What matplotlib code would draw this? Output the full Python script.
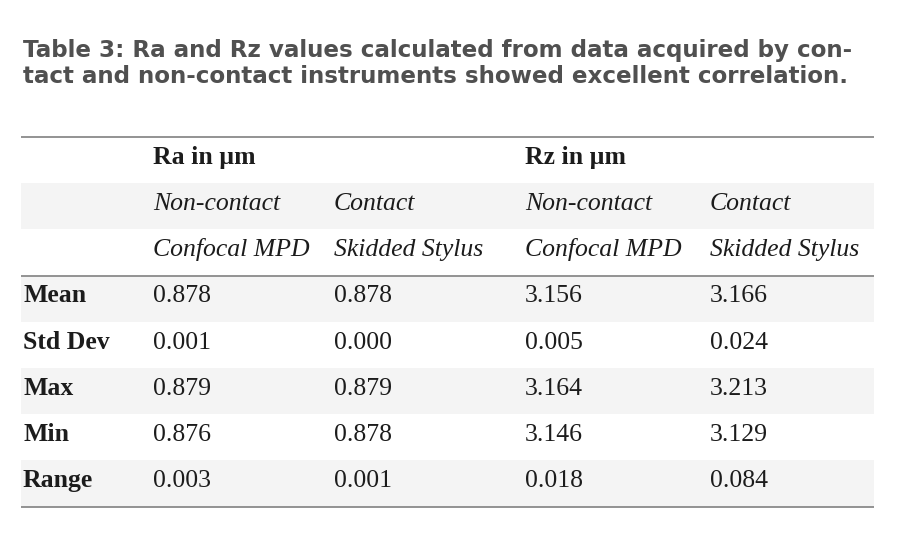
import matplotlib
matplotlib.use("Agg")
import matplotlib.pyplot as plt
from matplotlib.patches import Rectangle
from matplotlib.font_manager import FontProperties

# ---- data ----
title_lines = [
    "Table 3: Ra and Rz values calculated from data acquired by con-",
    "tact and non-contact instruments showed excellent correlation.",
]
group_headers = ["Ra in µm", "", "Rz in µm", ""]
method_headers = ["Non-contact", "Contact", "Non-contact", "Contact"]
instrument_headers = ["Confocal MPD", "Skidded Stylus", "Confocal MPD", "Skidded Stylus"]
row_labels = ["Mean", "Std Dev", "Max", "Min", "Range"]
ra_noncontact = [0.878, 0.001, 0.879, 0.876, 0.003]
ra_contact = [0.878, 0.000, 0.879, 0.878, 0.001]
rz_noncontact = [3.156, 0.005, 3.164, 3.146, 0.018]
rz_contact = [3.166, 0.024, 3.213, 3.129, 0.084]

W, H = 900, 550
fig = plt.figure(figsize=(W / 100, H / 100), dpi=100)
ax = fig.add_axes([0, 0, 1, 1])
ax.set_xlim(0, W)
ax.set_ylim(H, 0)
ax.axis("off")

title_color = "#505050"
text_color = "#1c1c1c"
band_color = "#f4f4f4"
line_color = "#8a8a8a"

# title: size fitted so the first line spans the same width as the reference
renderer = fig.canvas.get_renderer()
base_size = 14.0
tprop = FontProperties(family="DejaVu Sans", weight="bold", size=base_size)
w0, _, _ = renderer.get_text_width_height_descent(title_lines[0], tprop, ismath=False)
title_size = base_size * (857 - 23) / w0
for i, line in enumerate(title_lines):
    ax.text(23, 57.5 + 25.5 * i, line, fontsize=title_size, fontweight="bold",
            family="DejaVu Sans", color=title_color, va="baseline", ha="left")

# table geometry
x0, x1 = 21, 874
row_h = 46.2
top = 137
col_x = [23, 153, 334, 525, 710]
serif = "Liberation Serif"
fs = 18.5

header_rows = [group_headers, method_headers, instrument_headers]
data_cols = [ra_noncontact, ra_contact, rz_noncontact, rz_contact]
n_rows = len(header_rows) + len(row_labels)

# background bands
band_rows = [1, 3, 5, 7]
for r in band_rows:
    ax.add_patch(Rectangle((x0, top + r * row_h), x1 - x0, row_h,
                           facecolor=band_color, edgecolor="none", zorder=0))

# rules
for y in [top, top + len(header_rows) * row_h, top + n_rows * row_h]:
    ax.plot([x0, x1], [y, y], color=line_color, lw=1.3, solid_capstyle="butt", zorder=2)

base_off = 26.8
# headers
for r, hdr in enumerate(header_rows):
    y = top + r * row_h + base_off
    for c, t in enumerate(hdr):
        if not t:
            continue
        if r == 0:
            ax.text(col_x[c + 1], y, t, fontsize=fs, family=serif, fontweight="bold",
                    color=text_color, va="baseline", ha="left")
        else:
            ax.text(col_x[c + 1], y, t, fontsize=fs, family=serif, style="italic",
                    color=text_color, va="baseline", ha="left")

# data rows
for i, lab in enumerate(row_labels):
    y = top + (len(header_rows) + i) * row_h + base_off
    ax.text(col_x[0], y, lab, fontsize=fs, family=serif, fontweight="bold",
            color=text_color, va="baseline", ha="left")
    for c, col in enumerate(data_cols):
        ax.text(col_x[c + 1], y, f"{col[i]:.3f}", fontsize=fs, family=serif,
                color=text_color, va="baseline", ha="left")

fig.savefig("out.png", dpi=100, facecolor="white")
